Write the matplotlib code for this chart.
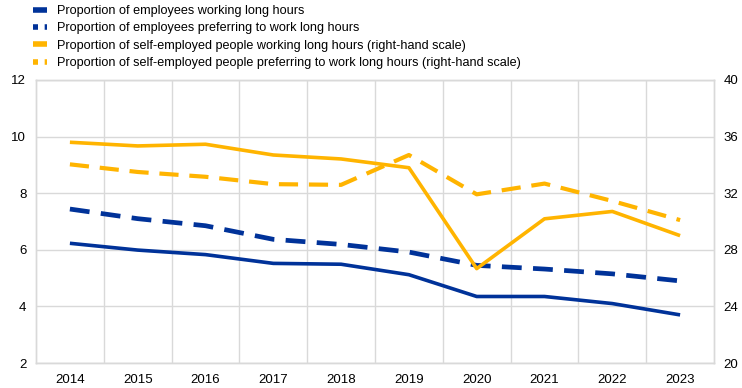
import matplotlib
matplotlib.use("Agg")
import matplotlib.pyplot as plt
from matplotlib.lines import Line2D

years = ["2014", "2015", "2016", "2017", "2018", "2019", "2020", "2021", "2022", "2023"]
emp_working = [6.23, 5.99, 5.83, 5.52, 5.49, 5.12, 4.35, 4.35, 4.10, 3.70]
emp_preferring = [7.44, 7.10, 6.85, 6.37, 6.19, 5.92, 5.45, 5.32, 5.15, 4.90]
self_working = [35.6, 35.34, 35.46, 34.7, 34.42, 33.8, 26.67, 30.19, 30.71, 29.0]
self_preferring = [34.04, 33.5, 33.16, 32.64, 32.59, 34.7, 31.92, 32.68, 31.45, 30.1]
labels = [
    "Proportion of employees working long hours",
    "Proportion of employees preferring to work long hours",
    "Proportion of self-employed people working long hours (right-hand scale)",
    "Proportion of self-employed people preferring to work long hours (right-hand scale)",
]

BLUE = "#003299"
GOLD = "#FFB400"
GRID = "#d9d9d9"

plt.rcParams["font.family"] = ["Liberation Sans", "DejaVu Sans"]

fig = plt.figure(figsize=(7.42, 3.88), dpi=100)
ax = fig.add_axes([36/742, 1-363/388, (714-36)/742, (363-80)/388])
ax2 = ax.twinx()

x = list(range(len(years)))
ax.plot(x, emp_working, color=BLUE, lw=2.6, solid_capstyle="butt", zorder=3)
ax.plot(x, emp_preferring, color=BLUE, lw=3.4, dashes=(4.2, 2.4), zorder=3)
ax2.plot(x, self_working, color=GOLD, lw=2.6, solid_capstyle="butt", zorder=3)
ax2.plot(x, self_preferring, color=GOLD, lw=3.0, dashes=(4.6, 2.6), zorder=3)

ax.set_xlim(-0.5, len(years) - 0.5)
ax.set_ylim(2, 12)
ax.set_yticks([2, 4, 6, 8, 10, 12])
ax2.set_ylim(20, 40)
ax2.set_yticks([20, 24, 28, 32, 36, 40])
ax.set_xticks(x)
ax.set_xticklabels(years)
ax.set_xticks([i + 0.5 for i in range(len(years) - 1)], minor=True)

ax.grid(True, axis="y", which="major", color=GRID, lw=1)
ax.grid(True, axis="x", which="minor", color=GRID, lw=1)
ax.set_axisbelow(True)

for a in (ax, ax2):
    for s in a.spines.values():
        s.set_color(GRID)
        s.set_linewidth(1)
    a.tick_params(axis="both", which="both", length=0, labelsize=9.5, colors="#000000")
ax.tick_params(axis="y", pad=7)
ax2.tick_params(axis="y", pad=7)
ax.tick_params(axis="x", pad=8)

handles = [
    Line2D([0], [0], color=BLUE, lw=4, solid_capstyle="butt"),
    Line2D([0], [0], color=BLUE, lw=4, dashes=(0.9, 1.2)),
    Line2D([0], [0], color=GOLD, lw=4, solid_capstyle="butt"),
    Line2D([0], [0], color=GOLD, lw=4, dashes=(0.9, 1.2)),
]
fig.legend(handles, labels, loc="upper left", bbox_to_anchor=(28/742, 1.0),
           frameon=False, fontsize=9.1, handlelength=1.1, handletextpad=0.8,
           labelspacing=0.42, borderaxespad=0.0)

fig.savefig("out.png", dpi=100)
